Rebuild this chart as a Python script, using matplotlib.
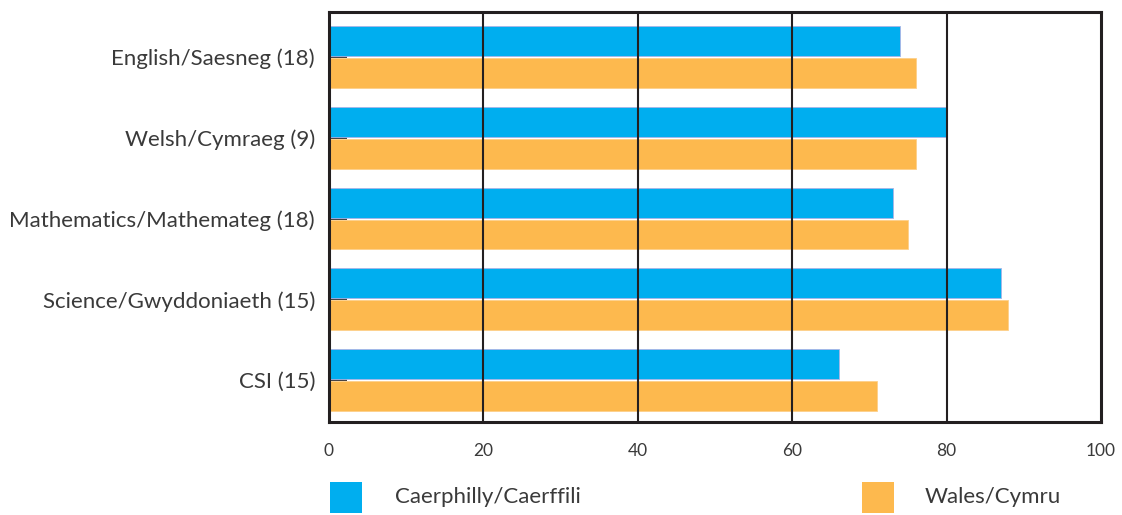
import matplotlib.pyplot as plt
import numpy as np
from matplotlib.patches import Rectangle

# Data
subjects = ['English/Saesneg (18)', 'Welsh/Cymraeg (9)', 'Mathematics/Mathemateg (18)',
            'Science/Gwyddoniaeth (15)', 'CSI (15)']
caerphilly = [74, 80, 73, 87, 66]
wales = [76, 76, 75, 88, 71]
series_names = ['Caerphilly/Caerffili', 'Wales/Cymru']

blue = '#00AEEF'
orange = '#FDB94E'
text_col = '#3a3a3a'

plt.rcParams['font.family'] = ['Lato', 'DejaVu Sans']

fig = plt.figure(figsize=(11.22, 5.15), dpi=100)
ax = fig.add_axes([0.2932, 0.1806, 0.6881, 0.7961])

y = np.arange(len(subjects))
h = 0.37
off = h / 2 + 0.012
ax.barh(y - off, caerphilly, height=h, color=blue, edgecolor='#a9b4e6', linewidth=0.6, zorder=2)
ax.barh(y + off, wales, height=h, color=orange, edgecolor='#fdd08a', linewidth=0.6, zorder=2)

ax.set_xlim(0, 100)
ax.set_ylim(4.52, -0.56)
ax.set_xticks([0, 20, 40, 60, 80, 100])
ax.set_yticks(y)
ax.set_yticklabels(subjects, fontsize=16, color=text_col)
for lab in ax.get_xticklabels():
    lab.set_fontsize(12.5)
    lab.set_color(text_col)

for v in [20, 40, 60, 80]:
    ax.axvline(v, color='#231f20', linewidth=1.5, zorder=3)

for s in ax.spines.values():
    s.set_linewidth(2.2)
    s.set_color('#231f20')
    s.set_zorder(4)

ax.tick_params(axis='y', direction='in', length=13, width=1.2, color='#231f20', pad=10)
ax.tick_params(axis='x', length=0, pad=15)

# legend drawn at the bottom
fig.add_artist(Rectangle((330 / 1122, 2 / 515), 32 / 1122, 31 / 515, transform=fig.transFigure,
                         facecolor=blue, edgecolor='none'))
fig.text(395 / 1122, 18 / 515, series_names[0], fontsize=16, color=text_col, va='center')
fig.add_artist(Rectangle((862 / 1122, 2 / 515), 32 / 1122, 31 / 515, transform=fig.transFigure,
                         facecolor=orange, edgecolor='none'))
fig.text(925 / 1122, 18 / 515, series_names[1], fontsize=16, color=text_col, va='center')

fig.savefig('out.png', dpi=100)
